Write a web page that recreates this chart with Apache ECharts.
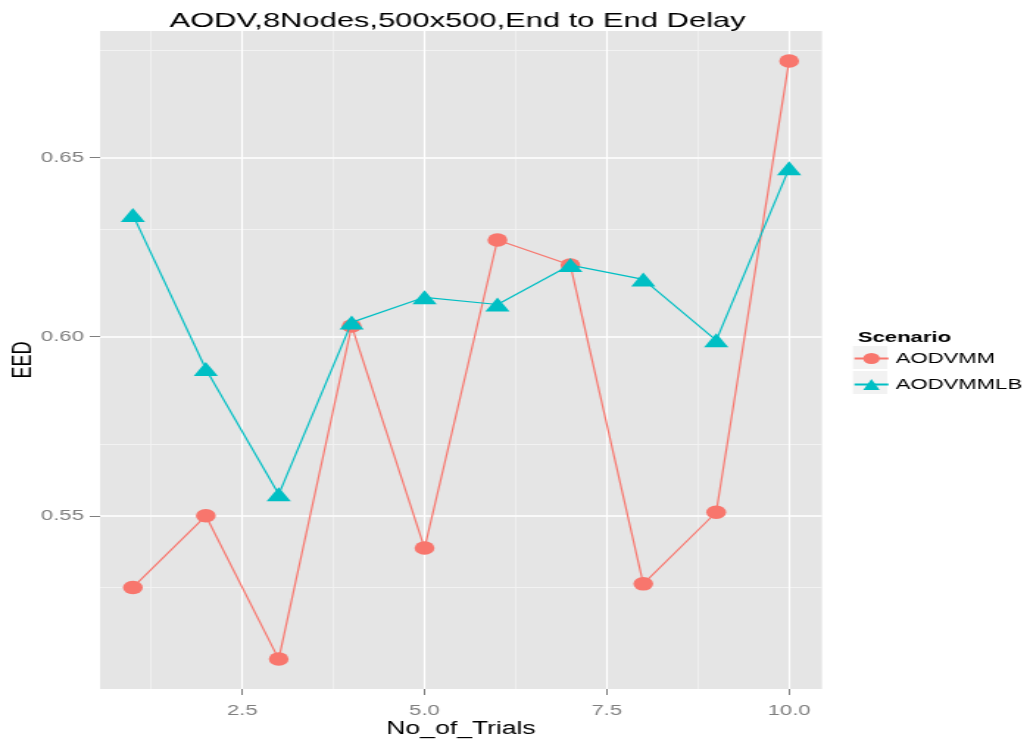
<!DOCTYPE html>
<html>
<head>
<meta charset="utf-8">
<script src="https://cdn.jsdelivr.net/npm/echarts@6/dist/echarts.min.js"></script>
<style>
html,body{margin:0;padding:0;background:#fff;overflow:hidden;width:1030px;height:745px;}
#chart{width:700px;height:745px;transform:scaleX(1.4714);transform-origin:0 0;}
</style>
</head>
<body>
<div id="chart"></div>
<script>
const trials = [1, 2, 3, 4, 5, 6, 7, 8, 9, 10];
const aodvmm = [0.530, 0.550, 0.510, 0.603, 0.541, 0.627, 0.620, 0.531, 0.551, 0.677];
const aodvmmlb = [0.634, 0.591, 0.556, 0.604, 0.611, 0.609, 0.620, 0.616, 0.599, 0.647];
const xTicks = [2.5, 5.0, 7.5, 10.0];
const xMinor = [1.25, 3.75, 6.25, 8.75];
const yTicks = [0.55, 0.60, 0.65];
const yMinor = [0.525, 0.575, 0.625, 0.675];
const seriesNames = ['AODVMM', 'AODVMMLB'];
const colors = ['#F8766D', '#00BFC4'];

const FONT = 'Liberation Sans, Arial, sans-serif';
const allY = aodvmm.concat(aodvmmlb);
const yLo = Math.min(...allY), yHi = Math.max(...allY);
const yPad = (yHi - yLo) * 0.05;
const xLo = Math.min(...trials), xHi = Math.max(...trials);
const xPad = (xHi - xLo) * 0.05;

const chart = echarts.init(document.getElementById('chart'), null, {renderer: 'canvas'});

const gridSeries = {
  type: 'line', data: [], silent: true, z: 1,
  markLine: {
    silent: true, z: 1, symbol: ['none', 'none'], label: {show: false}, animation: false,
    data: [
      ...xMinor.map(v => ({xAxis: v, lineStyle: {color: '#F2F2F2', width: 0.8, type: 'solid'}})),
      ...yMinor.map(v => ({yAxis: v, lineStyle: {color: '#F2F2F2', width: 1.1, type: 'solid'}})),
      ...xTicks.map(v => ({xAxis: v, lineStyle: {color: '#FFFFFF', width: 1.2, type: 'solid'}})),
      ...yTicks.map(v => ({yAxis: v, lineStyle: {color: '#FFFFFF', width: 1.7, type: 'solid'}}))
    ]
  }
};

chart.setOption({
  animation: false,
  backgroundColor: '#FFFFFF',
  title: [{
    text: 'AODV,8Nodes,500x500,End to End Delay',
    left: 306, top: 6, textAlign: 'center',
    textStyle: {fontFamily: FONT, fontSize: 21, fontWeight: 'normal', color: '#000'}
  }, {
    text: 'Scenario', left: 578, top: 325,
    textStyle: {fontFamily: FONT, fontSize: 15, fontWeight: 'bold', color: '#000'}
  }],
  graphic: [
    {type: 'rect', left: 579.7, top: 346, shape: {width: 23.1, height: 23}, style: {fill: '#F2F2F2'}, z: 0},
    {type: 'rect', left: 579.7, top: 371, shape: {width: 23.1, height: 23}, style: {fill: '#F2F2F2'}, z: 0}
  ],
  legend: {
    orient: 'vertical', left: 579.7, top: 351, padding: 0, itemWidth: 23.1, itemHeight: 14, itemGap: 11,
    textStyle: {fontFamily: FONT, fontSize: 15, color: '#000'},
    data: seriesNames
  },
  grid: {left: 68, right: 141.4, top: 31, bottom: 56, show: true, backgroundColor: '#E5E5E5', borderWidth: 0,
         containLabel: false, outerBoundsMode: 'none'},
  xAxis: {
    type: 'value', min: xLo - xPad, max: xHi + xPad,
    name: 'No_of_Trials', nameLocation: 'middle', nameGap: 31, nameMoveOverlap: false,
    nameTextStyle: {fontFamily: FONT, fontSize: 18, color: '#000'},
    axisLine: {show: false},
    axisTick: {show: true, customValues: xTicks, length: 6, lineStyle: {color: '#7F7F7F', width: 1}},
    axisLabel: {customValues: xTicks, formatter: v => v.toFixed(1), fontFamily: FONT, fontSize: 15, color: '#7F7F7F', margin: 14},
    splitLine: {show: false}
  },
  yAxis: {
    type: 'value', min: yLo - yPad, max: yHi + yPad,
    name: 'EED', nameLocation: 'middle', nameGap: 43, nameRotate: 90, nameMoveOverlap: false,
    nameTextStyle: {fontFamily: FONT, fontSize: 18, color: '#000'},
    axisLine: {show: false},
    axisTick: {show: true, customValues: yTicks, length: 7, lineStyle: {color: '#7F7F7F', width: 1}},
    axisLabel: {customValues: yTicks, formatter: v => v.toFixed(2), fontFamily: FONT, fontSize: 15, color: '#7F7F7F', margin: 11},
    splitLine: {show: false}
  },
  series: [
    gridSeries,
    {
      name: seriesNames[0], type: 'line', z: 3,
      data: trials.map((x, i) => [x, aodvmm[i]]),
      symbol: 'circle', symbolSize: 13.5, showAllSymbol: true,
      lineStyle: {color: colors[0], width: 1.2},
      itemStyle: {color: colors[0]}
    },
    {
      name: seriesNames[1], type: 'line', z: 4,
      data: trials.map((x, i) => [x, aodvmmlb[i]]),
      symbol: 'triangle', symbolSize: [16.5, 14], showAllSymbol: true,
      lineStyle: {color: colors[1], width: 1.2},
      itemStyle: {color: colors[1]}
    }
  ]
});
</script>
</body>
</html>
